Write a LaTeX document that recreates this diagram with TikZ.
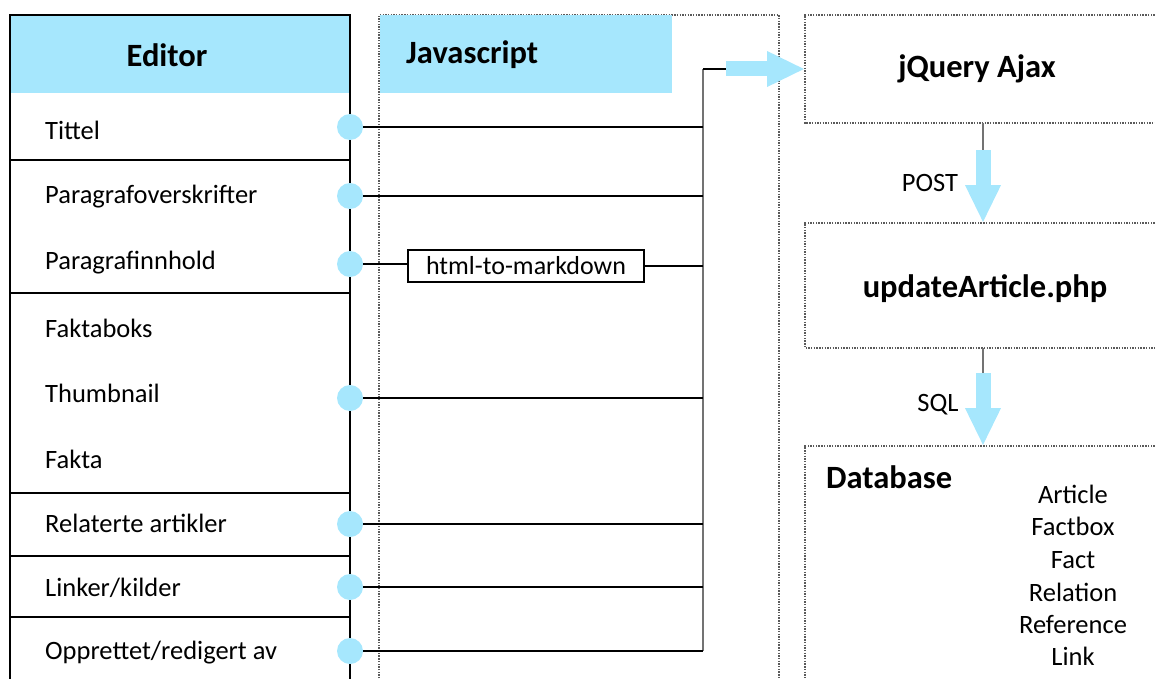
\documentclass[tikz,border=0pt]{standalone}
\usepackage{fontspec}
\setmainfont{Carlito}
\usetikzlibrary{arrows.meta}
\definecolor{skyfill}{RGB}{166,231,253}
\definecolor{dotgray}{RGB}{90,90,90}
\tikzset{
  item/.style={anchor=west, font=\fontsize{26.5}{30}\selectfont, inner sep=0pt},
  head/.style={font=\bfseries\fontsize{32.5}{38}\selectfont, inner sep=0pt},
  plain/.style={font=\fontsize{26.5}{30}\selectfont, inner sep=0pt},
  port/.style={circle, fill=skyfill, minimum size=26pt, inner sep=0pt},
  wire/.style={line width=1.4pt, black},
  bus/.style={line width=1.6pt, black!55},
  sep/.style={line width=1.6pt, black},
  dotbox/.style={line width=1.6pt, dotgray, dash pattern=on 1.4pt off 1.3pt},
  flow/.style={line width=15pt, skyfill, -{Triangle[length=38pt,width=33pt]}},
  convbox/.style={draw, line width=1.4pt, minimum width=236pt, minimum height=32pt, inner sep=0pt, font=\fontsize{26}{30}\selectfont},
}
\begin{document}
\begin{tikzpicture}[x=1pt,y=-1pt]
\useasboundingbox (0,0) rectangle (1155,679);

% Editor column
\fill[skyfill] (10,15) rectangle (350,93);
\draw[sep] (10,700) -- (10,15) -- (350,15) -- (350,700);
\foreach \yy in {160,293,493,556,617} \draw[sep] (10,\yy) -- (350,\yy);
\node[head] (editor) at (167,55) {Editor};

\node[item] (tittel) at (45,130) {Tittel};
\node[item] (povers) at (45,197) {Paragrafoverskrifter};
\node[item] (pinnh)  at (45,263) {Paragrafinnhold};
\node[item] (faktab) at (45,328) {Faktaboks};
\node[item] (thumb)  at (45,393) {Thumbnail};
\node[item] (fakta)  at (45,459) {Fakta};
\node[item] (relart) at (45,523) {Relaterte artikler};
\node[item] (linker) at (45,588) {Linker/kilder};
\node[item] (oppr)   at (45,653) {Opprettet/redigert av};

% Javascript column
\draw[dotbox] (379,700) -- (379,15) -- (779,15) -- (779,700);
\fill[skyfill] (380,15) rectangle (672,93);
\node[head, anchor=west] (js) at (406,55) {Javascript};

% Server side boxes
\draw[dotbox] (1160,15) -- (805,15) -- (805,123) -- (1160,123);
\node[head] (ajax) at (977,69) {jQuery Ajax};
\draw[dotbox] (1160,223) -- (805,223) -- (805,348) -- (1160,348);
\node[head] (php) at (985,289) {updateArticle.php};
\draw[dotbox] (1160,446) -- (805,446) -- (805,700);
\node[head, anchor=west] (db) at (826,477) {Database};
\node[plain] (t1) at (1073,494) {Article};
\node[plain] (t2) at (1073,526) {Factbox};
\node[plain] (t3) at (1073,560) {Fact};
\node[plain] (t4) at (1073,592) {Relation};
\node[plain] (t5) at (1073,624) {Reference};
\node[plain] (t6) at (1073,656) {Link};

% Ports on the editor edge
\node[port] (p1) at (350,127) {};
\node[port] (p2) at (350,196) {};
\node[port] (p3) at (350,264) {};
\node[port] (p4) at (350,398) {};
\node[port] (p5) at (350,524) {};
\node[port] (p6) at (350,587) {};
\node[port] (p7) at (350,651) {};

\node[convbox] (h2m) at (526,266) {html-to-markdown};

% Collector bus
\coordinate (btop) at (703,69);
\coordinate (bbot) at (703,651);
\coordinate (b1) at (703,127);
\coordinate (b2) at (703,196);
\coordinate (b3) at (703,266);
\coordinate (b4) at (703,398);
\coordinate (b5) at (703,524);
\coordinate (b6) at (703,587);
\coordinate (aout) at (726,69);
\coordinate (ain) at (805,69);

\draw[bus] (btop) -- (bbot);
\draw[wire] (p1) -- (b1);
\draw[wire] (p2) -- (b2);
\draw[wire] (p3.east) -- (p3.east -| h2m.west);
\draw[wire] (h2m) -- (b3);
\draw[wire] (p4) -- (b4);
\draw[wire] (p5) -- (b5);
\draw[wire] (p6) -- (b6);
\draw[wire] (p7) -- (bbot);
\draw[wire] (btop) -- (aout);

% Flow arrows
\draw[flow] (aout) -- (ain);
\coordinate (a1) at (983,123);
\coordinate (a2) at (983,150);
\coordinate (a3) at (983,223);
\draw[bus] (a1) -- (a2);
\draw[flow] (a2) -- (a3);
\node[plain] (post) at (930,183) {POST};
\coordinate (s1) at (983,348);
\coordinate (s2) at (983,373);
\coordinate (s3) at (983,446);
\draw[bus] (s1) -- (s2);
\draw[flow] (s2) -- (s3);
\node[plain] (sql) at (938,405) {SQL};
\end{tikzpicture}
\end{document}
